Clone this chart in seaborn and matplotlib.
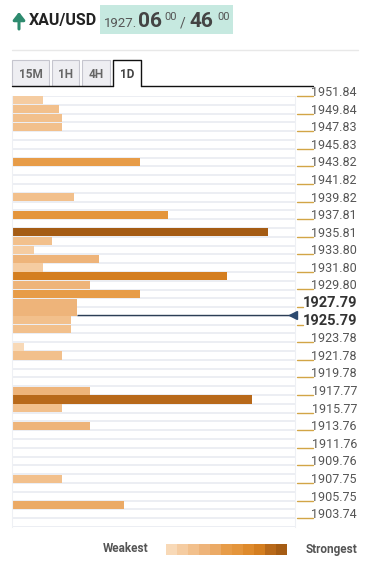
import numpy as np
import pandas as pd
import matplotlib
matplotlib.use("Agg")
import matplotlib.pyplot as plt
import seaborn as sns
from matplotlib.patches import Rectangle

# =========================================================
# DATA
# =========================================================

bar_levels = [1951.34, 1950.34, 1949.34, 1948.34, 1944.33, 1940.32, 1938.31,
              1936.31, 1935.31, 1934.31, 1933.30, 1932.30, 1931.30, 1930.30,
              1929.30, 1928.29, 1927.29, 1926.29, 1925.29, 1923.28, 1922.28,
              1918.27, 1917.27, 1916.27, 1914.26, 1908.25, 1905.25]
bar_strength = [31, 47, 50, 50, 128, 62, 156,
                256, 40, 22, 87, 31, 215, 78,
                128, 65, 65, 59, 59, 12, 50,
                78, 240, 50, 78, 50, 112]

tick_labels = ["1951.84", "1949.84", "1947.83", "1945.83", "1943.82", "1941.82",
               "1939.82", "1937.81", "1935.81", "1933.80", "1931.80", "1929.80",
               "1927.79", "1925.79", "1923.78", "1921.78", "1919.78", "1917.77",
               "1915.77", "1913.76", "1911.76", "1909.76", "1907.75", "1905.75",
               "1903.74"]
bold_labels = ["1927.79", "1925.79"]

price_marker = 1926.85
symbol = "XAU/USD"
tabs = ["15M", "1H", "4H", "1D"]
active_tab = "1D"

# =========================================================
# STYLE
# =========================================================

sns.set_style("white")
plt.rcParams["font.family"] = ["Roboto", "DejaVu Sans"]

shades = ["#F8D9B7", "#F5CCA1", "#F2C08C", "#EEB47A", "#EBAA66", "#E79C48",
          "#E4953C", "#DE8A2C", "#D47E20", "#B8691A", "#A55C14"]

df = pd.DataFrame({"level": bar_levels, "strength": bar_strength})
max_strength = df["strength"].max()
df["shade"] = (df["strength"] / max_strength * 10).round().astype(int).astype(str)
shade_map = {str(i): c for i, c in enumerate(shades)}

W, H = 373, 570
fig = plt.figure(figsize=(W / 100, H / 100), dpi=100)

# decoration layer in pixel coords
deco = fig.add_axes([0, 0, 1, 1])
deco.set_xlim(0, W)
deco.set_ylim(H, 0)
deco.axis("off")

# main chart
ax = fig.add_axes([12 / W, 1 - 527 / H, 283 / W, 431 / H])

tick_vals = [float(t) for t in tick_labels]
step = (tick_vals[0] - tick_vals[-1]) / (len(tick_vals) - 1) / 2
y_top = tick_vals[0]
y_bot = tick_vals[-1] - step
rows = np.arange(y_top, y_bot - step / 2, -step)

for r in rows:
    ax.axhline(r, color="#E9EBF1", linewidth=1.2, zorder=0)

# price marker line, behind the bars
near = df.loc[(df["level"] - price_marker).abs() < 0.6, "strength"]
ax.hlines(price_marker, near.max(), 281, color="#2C3E55", linewidth=1, zorder=1)
ax.plot([281], [price_marker], marker="<", color="#2C4A70", markersize=6,
        clip_on=False, zorder=5)

sns.barplot(data=df, x="strength", y="level", hue="shade", palette=shade_map,
            orient="h", native_scale=True, dodge=False, width=0.9,
            saturation=1, legend=False, ax=ax, zorder=2,
            linewidth=0, edgecolor="none")

# each bar fills its price row
for p in ax.patches:
    mid = p.get_y() + p.get_height() / 2
    p.set_height(step * 0.93)
    p.set_y(mid - step * 0.465)
    p.set_linewidth(0)

ax.set_xlim(0, 283)
ax.set_ylim(y_bot, y_top)
ax.set_xticks([])
ax.set_yticks([])
ax.set_xlabel("")
ax.set_ylabel("")
for s in ["top", "bottom"]:
    ax.spines[s].set_visible(False)
for s in ["left", "right"]:
    ax.spines[s].set_color("#EEF0F4")
    ax.spines[s].set_linewidth(0.8)

# right-hand labels
tr = ax.get_yaxis_transform()
for lab, v in zip(tick_labels, tick_vals):
    bold = lab in bold_labels
    x0 = (297 - 12) / 283
    x1 = ((303 if bold else 313) - 12) / 283
    ax.plot([x0, x1], [v, v], transform=tr, color="#D2A546", linewidth=1,
            clip_on=False)
    ax.text((357 - 12) / 283, v, lab, transform=tr, ha="right", va="baseline",
            fontsize=10.5 if bold else 9,
            fontweight="bold" if bold else "normal",
            color="#333333" if bold else "#555555")

# =========================================================
# HEADER
# =========================================================

deco.annotate("", xy=(19, 12), xytext=(19, 29),
              arrowprops=dict(arrowstyle="-|>,head_length=0.45,head_width=0.35",
                              color="#2E8B6F", lw=2.2, shrinkA=0, shrinkB=0))
deco.text(29, 21, symbol, fontsize=11.5, fontweight="bold", color="#222222",
          va="center", ha="left")
deco.add_patch(Rectangle((100, 5), 133, 29, facecolor="#C6E9E0", edgecolor="none"))
deco.text(104, 27, "1927.", fontsize=9.5, color="#555555", va="baseline")
deco.text(138, 27, "06", fontsize=15, fontweight="bold", color="#444444", va="baseline")
deco.text(164, 20, "00", fontsize=8, color="#555555", va="baseline")
deco.text(180, 27, "/", fontsize=10, color="#555555", va="baseline")
deco.text(189, 27, "46", fontsize=15, fontweight="bold", color="#444444", va="baseline")
deco.text(217, 20, "00", fontsize=8, color="#555555", va="baseline")

deco.plot([12, 358], [50, 50], color="#E8E8E8", linewidth=1)

# tabs
tab_x = [(12, 49), (52, 79), (82, 110), (113, 141)]
for name, (a, b) in zip(tabs, tab_x):
    if name == active_tab:
        deco.plot([a, a, b, b], [86, 60, 60, 86], color="#111111", linewidth=1)
        col = "#444444"
    else:
        deco.add_patch(Rectangle((a, 60), b - a, 26, facecolor="#EEEEF2",
                                 edgecolor="#C5C5CE", linewidth=0.8))
        col = "#666666"
    deco.text((a + b) / 2, 74, name, fontsize=8.5, fontweight="bold", color=col,
              ha="center", va="center")
deco.plot([12, 113], [86, 86], color="#111111", linewidth=1)
deco.plot([141, 313], [86, 86], color="#111111", linewidth=1)

# =========================================================
# LEGEND
# =========================================================

deco.text(148, 549, "Weakest", fontsize=8.5, fontweight="bold", color="#555555",
          ha="right", va="center")
cw = (287 - 166) / len(shades)
for i, c in enumerate(shades):
    deco.add_patch(Rectangle((166 + i * cw, 544), cw + 0.3, 11, facecolor=c,
                             edgecolor="none"))
deco.text(357, 549, "Strongest", fontsize=8.5, fontweight="bold", color="#555555",
          ha="right", va="center")

fig.savefig("out.png", dpi=100)
